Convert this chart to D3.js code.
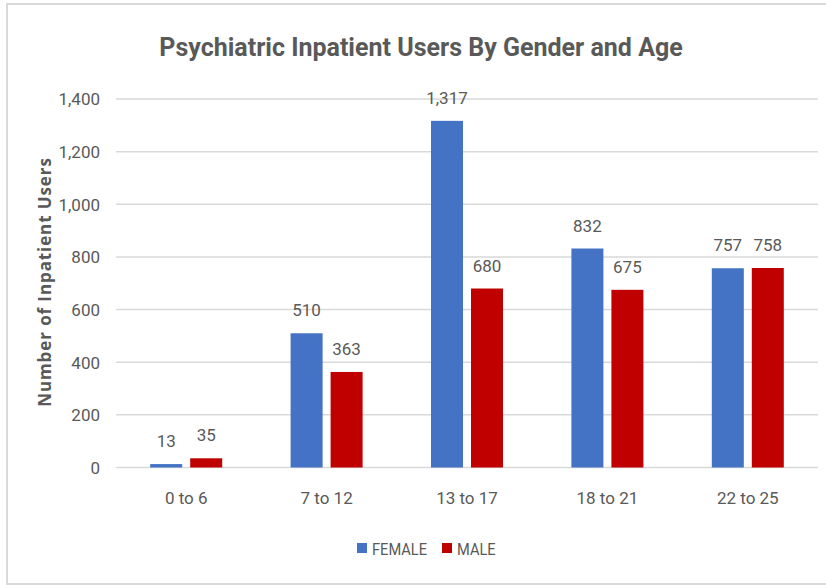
<!DOCTYPE html>
<html>
<head>
<meta charset="utf-8">
<script src="https://cdn.jsdelivr.net/npm/d3@7"></script>
<style>
  body { margin: 0; background: #fff; }
  svg text { font-family: "Roboto", sans-serif; fill: #595959; }
</style>
</head>
<body>
<svg id="canvas" width="826" height="585"></svg>
<script>
// chart data
let ageGroups = ['0 to 6', '7 to 12', '13 to 17', '18 to 21', '22 to 25']
let series = ['FEMALE', 'MALE']
let femaleValues = [13, 510, 1317, 832, 757]
let maleValues = [35, 363, 680, 675, 758]
let yTicks = [0, 200, 400, 600, 800, 1000, 1200, 1400]
let colors = ['#4472C4', '#C00000']

let canvas = d3.select('#canvas')

// outer chart border
canvas.append('rect')
    .attr('x', 7).attr('y', 4)
    .attr('width', 830).attr('height', 580)
    .attr('fill', 'none')
    .attr('stroke', '#D9D9D9')
    .attr('stroke-width', 2)

let plotLeft = 116, plotRight = 818, plotTop = 99, plotBottom = 467.5

let xScale = d3.scaleBand().domain(ageGroups).range([plotLeft, plotRight])
let groupScale = d3.scaleBand().domain(series)
    .range([xScale.bandwidth() / 2 - 36, xScale.bandwidth() / 2 + 36])
    .paddingInner(0.2)
let yScale = d3.scaleLinear().domain([0, 1400]).range([plotBottom, plotTop])

// gridlines
canvas.append('g').selectAll('line')
    .data(yTicks)
    .enter()
    .append('line')
    .attr('x1', plotLeft).attr('x2', plotRight)
    .attr('y1', d => yScale(d)).attr('y2', d => yScale(d))
    .attr('stroke', '#D9D9D9')
    .attr('stroke-width', 1.5)

// y axis labels
let yAxis = d3.axisLeft(yScale).tickValues(yTicks).tickFormat(d3.format(',')).tickSize(0).tickPadding(16)
let yG = canvas.append('g').attr('transform', 'translate(' + plotLeft + ',0)').call(yAxis)
yG.select('.domain').remove()
yG.selectAll('text').style('font-size', '17px').attr('dy', '0.35em')

// x axis labels
let xAxis = d3.axisBottom(xScale).tickSize(0).tickPadding(24)
let xG = canvas.append('g').attr('transform', 'translate(0,' + plotBottom + ')').call(xAxis)
xG.select('.domain').remove()
xG.selectAll('text').style('font-size', '17px')

let rows = ageGroups.map((age, i) => {
    return {age: age, values: [femaleValues[i], maleValues[i]]}
})

let groups = canvas.selectAll('.group')
    .data(rows)
    .enter()
    .append('g')
    .attr('class', 'group')
    .attr('transform', d => 'translate(' + xScale(d.age) + ',0)')

let bars = groups.selectAll('g')
    .data(d => d.values.map((v, j) => ({name: series[j], value: v, idx: j})))
    .enter()
    .append('g')

bars.append('rect')
    .attr('x', d => groupScale(d.name))
    .attr('y', d => yScale(d.value))
    .attr('width', groupScale.bandwidth())
    .attr('height', d => yScale(0) - yScale(d.value))
    .attr('fill', d => colors[d.idx])

bars.append('text')
    .attr('x', d => groupScale(d.name) + groupScale.bandwidth() / 2)
    .attr('y', d => yScale(d.value) - 17)
    .attr('text-anchor', 'middle')
    .style('font-size', '17px')
    .text(d => d3.format(',')(d.value))

// title
canvas.append('text')
    .attr('x', 421).attr('y', 56)
    .attr('text-anchor', 'middle')
    .style('font-size', '25px')
    .style('font-weight', 'bold')
    .text('Psychiatric Inpatient Users By Gender and Age')

// y axis title
canvas.append('text')
    .attr('transform', 'translate(51,282) rotate(-90)')
    .attr('text-anchor', 'middle')
    .style('font-size', '17px')
    .style('font-weight', 'bold')
    .style('letter-spacing', '0.9px')
    .style('font-family', '"Open Sans", sans-serif')
    .text('Number of Inpatient Users')

// legend
let legendX = [357, 442]
let legend = canvas.selectAll('.legend')
    .data(series)
    .enter()
    .append('g')
    .attr('class', 'legend')
    .attr('transform', (d, i) => 'translate(' + legendX[i] + ',543)')

legend.append('rect')
    .attr('width', 10).attr('height', 10)
    .attr('fill', (d, i) => colors[i])

legend.append('text')
    .attr('transform', 'translate(15,12) scale(0.86,1)')
    .style('font-size', '17px')
    .text(d => d)
</script>
</body>
</html>
